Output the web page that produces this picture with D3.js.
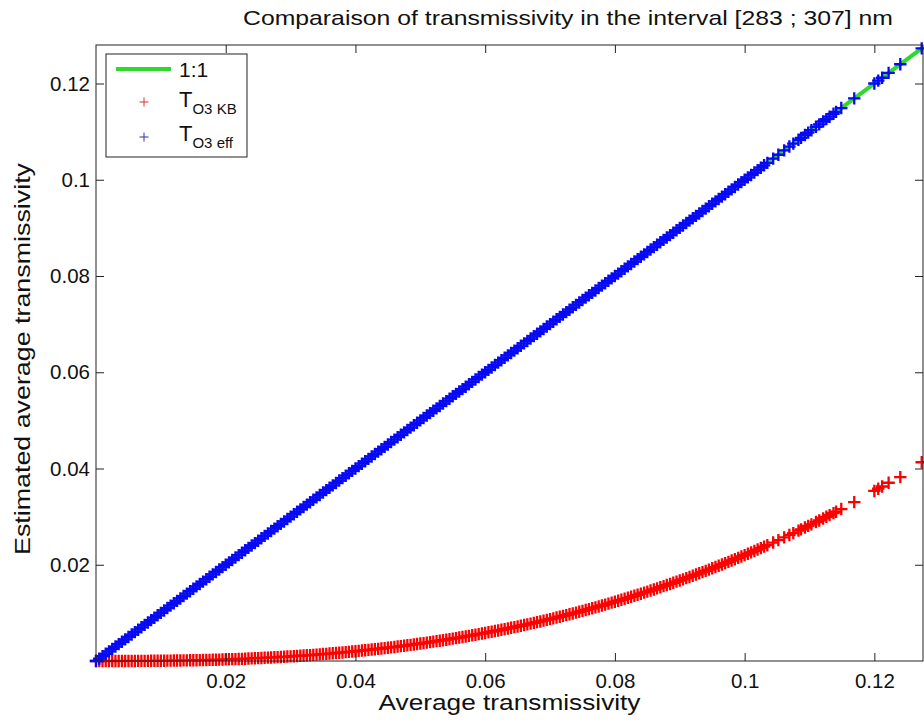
<!DOCTYPE html>
<html>
<head>
<meta charset="utf-8">
<script src="https://cdn.jsdelivr.net/npm/d3@7"></script>
<style>
  html, body { margin: 0; padding: 0; background: #fff; }
  svg { display: block; font-family: "Liberation Sans", Arial, sans-serif; }
</style>
</head>
<body>
<svg id="chart" width="924" height="724"></svg>
<script>
// Observed average transmissivity (x) for each sample
const avgTrans = [
  0, 0.0005, 0.001, 0.0015, 0.002, 0.0025, 0.003, 0.0035, 0.004, 0.0045,
  0.005, 0.0055, 0.006, 0.0065, 0.007, 0.0075, 0.008, 0.0085, 0.009, 0.0095,
  0.01, 0.0105, 0.011, 0.0115, 0.012, 0.0125, 0.013, 0.0135, 0.014, 0.0145,
  0.015, 0.0155, 0.016, 0.0165, 0.017, 0.0175, 0.018, 0.0185, 0.019, 0.0195,
  0.02, 0.0205, 0.021, 0.0215, 0.022, 0.0225, 0.023, 0.0235, 0.024, 0.0245,
  0.025, 0.0255, 0.026, 0.0265, 0.027, 0.0275, 0.028, 0.0285, 0.029, 0.0295,
  0.03, 0.0305, 0.031, 0.0315, 0.032, 0.0325, 0.033, 0.0335, 0.034, 0.0345,
  0.035, 0.0355, 0.036, 0.0365, 0.037, 0.0375, 0.038, 0.0385, 0.039, 0.0395,
  0.04, 0.0405, 0.041, 0.0415, 0.042, 0.0425, 0.043, 0.0435, 0.044, 0.0445,
  0.045, 0.0455, 0.046, 0.0465, 0.047, 0.0475, 0.048, 0.0485, 0.049, 0.0495,
  0.05, 0.0505, 0.051, 0.0515, 0.052, 0.0525, 0.053, 0.0535, 0.054, 0.0545,
  0.055, 0.0555, 0.056, 0.0565, 0.057, 0.0575, 0.058, 0.0585, 0.059, 0.0595,
  0.06, 0.0605, 0.061, 0.0615, 0.062, 0.0625, 0.063, 0.0635, 0.064, 0.0645,
  0.065, 0.0655, 0.066, 0.0665, 0.067, 0.0675, 0.068, 0.0685, 0.069, 0.0695,
  0.07, 0.0705, 0.071, 0.0715, 0.072, 0.0725, 0.073, 0.0735, 0.074, 0.0745,
  0.075, 0.0755, 0.076, 0.0765, 0.077, 0.0775, 0.078, 0.0785, 0.079, 0.0795,
  0.08, 0.0805, 0.081, 0.0815, 0.082, 0.0825, 0.083, 0.0835, 0.084, 0.0845,
  0.085, 0.0855, 0.086, 0.0865, 0.087, 0.0875, 0.088, 0.0885, 0.089, 0.0895,
  0.09, 0.0905, 0.091, 0.0915, 0.092, 0.0925, 0.093, 0.0935, 0.094, 0.0945,
  0.095, 0.0955, 0.096, 0.0965, 0.097, 0.0975, 0.098, 0.0985, 0.099, 0.0995,
  0.1, 0.1005, 0.101, 0.1015, 0.102, 0.1025, 0.103, 0.1035,
  0.1044, 0.1052, 0.1061, 0.1069, 0.1075, 0.1083, 0.1087, 0.1093, 0.1098,
  0.1103, 0.111, 0.1115, 0.1121, 0.1126, 0.1131, 0.1137, 0.1141, 0.1149,
  0.1169, 0.12, 0.1206, 0.1212, 0.1222, 0.124, 0.1273
];

// Estimated transmissivity with the KB ozone model (red)
const estKB = [
  0, 0, 0, 0, 0, 0, 0, 0, 0.00001, 0.00001,
  0.00001, 0.00001, 0.00001, 0.00002, 0.00002, 0.00003, 0.00003, 0.00004, 0.00004, 0.00005,
  0.00006, 0.00006, 0.00007, 0.00008, 0.00009, 0.0001, 0.00011, 0.00012, 0.00013, 0.00015,
  0.00016, 0.00017, 0.00019, 0.0002, 0.00022, 0.00024, 0.00025, 0.00027, 0.00029, 0.00031,
  0.00033, 0.00035, 0.00038, 0.0004, 0.00043, 0.00045, 0.00048, 0.00051, 0.00054, 0.00057,
  0.0006, 0.00063, 0.00066, 0.0007, 0.00073, 0.00077, 0.0008, 0.00084, 0.00088, 0.00092,
  0.00096, 0.001, 0.00105, 0.00109, 0.00114, 0.00118, 0.00123, 0.00128, 0.00133, 0.00138,
  0.00144, 0.00149, 0.00155, 0.0016, 0.00166, 0.00172, 0.00178, 0.00184, 0.0019, 0.00196,
  0.00203, 0.0021, 0.00217, 0.00224, 0.00231, 0.00238, 0.00245, 0.00252, 0.0026, 0.00268,
  0.00276, 0.00284, 0.00292, 0.003, 0.00309, 0.00317, 0.00326, 0.00335, 0.00344, 0.00353,
  0.00363, 0.00372, 0.00382, 0.00392, 0.00402, 0.00412, 0.00422, 0.00432, 0.00443, 0.00454,
  0.00465, 0.00476, 0.00487, 0.00498, 0.0051, 0.00522, 0.00534, 0.00546, 0.00558, 0.0057,
  0.00583, 0.00596, 0.00609, 0.00622, 0.00635, 0.00648, 0.00662, 0.00676, 0.0069, 0.00704,
  0.00718, 0.00732, 0.00747, 0.00762, 0.00777, 0.00792, 0.00807, 0.00822, 0.00838, 0.00854,
  0.0087, 0.00886, 0.00903, 0.0092, 0.00937, 0.00954, 0.00971, 0.00988, 0.01006, 0.01023,
  0.01041, 0.0106, 0.01078, 0.01096, 0.01115, 0.01134, 0.01153, 0.01172, 0.01192, 0.01212,
  0.01232, 0.01252, 0.01272, 0.01292, 0.01313, 0.01334, 0.01355, 0.01376, 0.01398, 0.0142,
  0.01442, 0.01464, 0.01486, 0.01509, 0.01532, 0.01555, 0.01578, 0.01601, 0.01625, 0.01649,
  0.01673, 0.01697, 0.01722, 0.01746, 0.01771, 0.01796, 0.01822, 0.01847, 0.01873, 0.01899,
  0.01926, 0.01952, 0.01978, 0.02005, 0.02033, 0.0206, 0.02088, 0.02115, 0.02143, 0.02172,
  0.02201, 0.0223, 0.02258, 0.02287, 0.02316, 0.02346, 0.02376, 0.02406,
  0.02461, 0.02511, 0.02568, 0.02619, 0.02657, 0.02709, 0.02735, 0.02774, 0.02807,
  0.0284, 0.02887, 0.02921, 0.02962, 0.02996, 0.03031, 0.03073, 0.03101, 0.03157,
  0.03301, 0.03534, 0.0358, 0.03626, 0.03704, 0.0382, 0.0413
];

// Estimated transmissivity with the effective ozone model (blue)
const estEff = [
  0, 0.0005, 0.001, 0.0015, 0.002, 0.0025, 0.003, 0.0035, 0.004, 0.0045,
  0.005, 0.0055, 0.006, 0.0065, 0.007, 0.0075, 0.008, 0.0085, 0.009, 0.0095,
  0.01, 0.0105, 0.011, 0.0115, 0.012, 0.0125, 0.013, 0.0135, 0.014, 0.0145,
  0.015, 0.0155, 0.016, 0.0165, 0.017, 0.0175, 0.018, 0.0185, 0.019, 0.0195,
  0.02, 0.0205, 0.021, 0.0215, 0.022, 0.0225, 0.023, 0.0235, 0.024, 0.0245,
  0.025, 0.0255, 0.026, 0.0265, 0.027, 0.0275, 0.028, 0.0285, 0.029, 0.0295,
  0.03, 0.0305, 0.031, 0.0315, 0.032, 0.0325, 0.033, 0.0335, 0.034, 0.0345,
  0.035, 0.0355, 0.036, 0.0365, 0.037, 0.0375, 0.038, 0.0385, 0.039, 0.0395,
  0.04, 0.0405, 0.041, 0.0415, 0.042, 0.0425, 0.043, 0.0435, 0.044, 0.0445,
  0.045, 0.0455, 0.046, 0.0465, 0.047, 0.0475, 0.048, 0.0485, 0.049, 0.0495,
  0.05, 0.0505, 0.051, 0.0515, 0.052, 0.0525, 0.053, 0.0535, 0.054, 0.0545,
  0.055, 0.0555, 0.056, 0.0565, 0.057, 0.0575, 0.058, 0.0585, 0.059, 0.0595,
  0.06, 0.0605, 0.061, 0.0615, 0.062, 0.0625, 0.063, 0.0635, 0.064, 0.0645,
  0.065, 0.0655, 0.066, 0.0665, 0.067, 0.0675, 0.068, 0.0685, 0.069, 0.0695,
  0.07, 0.0705, 0.071, 0.0715, 0.072, 0.0725, 0.073, 0.0735, 0.074, 0.0745,
  0.075, 0.0755, 0.076, 0.0765, 0.077, 0.0775, 0.078, 0.0785, 0.079, 0.0795,
  0.08, 0.0805, 0.081, 0.0815, 0.082, 0.0825, 0.083, 0.0835, 0.084, 0.0845,
  0.085, 0.0855, 0.086, 0.0865, 0.087, 0.0875, 0.088, 0.0885, 0.089, 0.0895,
  0.09, 0.0905, 0.091, 0.0915, 0.092, 0.0925, 0.093, 0.0935, 0.094, 0.0945,
  0.095, 0.0955, 0.096, 0.0965, 0.097, 0.0975, 0.098, 0.0985, 0.099, 0.0995,
  0.1, 0.1005, 0.101, 0.1015, 0.102, 0.1025, 0.103, 0.1035,
  0.1044, 0.1052, 0.1061, 0.1069, 0.1075, 0.1083, 0.1087, 0.1093, 0.1098,
  0.1103, 0.111, 0.1115, 0.1121, 0.1126, 0.1131, 0.1137, 0.1141, 0.1149,
  0.1169, 0.12, 0.1206, 0.1212, 0.1222, 0.124, 0.1273
];

// Reference 1:1 line end points
const oneToOne = [0, 0.1285];

// Axis limits and tick labels
const xLimits = [0, 0.1275];
const yLimits = [0, 0.128];
const tickValues = [0.02, 0.04, 0.06, 0.08, 0.1, 0.12];
const tickLabels = ["0.02", "0.04", "0.06", "0.08", "0.1", "0.12"];

const titleText = "Comparaison of transmissivity in the interval [283 ; 307] nm";
const xLabelText = "Average transmissivity";
const yLabelText = "Estimated average transmissivity";

const svg = d3.select("#chart");
const plot = { left: 96, right: 923, top: 45, bottom: 661 };

const x = d3.scaleLinear().domain(xLimits).range([plot.left, plot.right]);
const y = d3.scaleLinear().domain(yLimits).range([plot.bottom, plot.top]);

const red = "#ff0000";
const blue = "#0808f8";
const green = "#2fd82f";
const axisColor = "#222";
const font = "'Liberation Sans', Arial, sans-serif";

// Clip for the 1:1 line only (markers are drawn unclipped)
svg.append("defs").append("clipPath").attr("id", "plotClip")
  .append("rect")
  .attr("x", plot.left).attr("y", plot.top)
  .attr("width", plot.right - plot.left).attr("height", plot.bottom - plot.top);

// 1:1 line
svg.append("line")
  .attr("clip-path", "url(#plotClip)")
  .attr("x1", x(oneToOne[0])).attr("y1", y(oneToOne[0]))
  .attr("x2", x(oneToOne[1])).attr("y2", y(oneToOne[1]))
  .attr("stroke", green).attr("stroke-width", 4);

// plus-shaped marker path
const plusPath = (cx, cy, h) =>
  `M${cx - h},${cy}H${cx + h}M${cx},${cy - h}V${cy + h}`;

function drawSeries(ys, color) {
  const d = avgTrans.map((v, i) => plusPath(x(v), y(ys[i]), 6.2)).join("");
  svg.append("path")
    .attr("d", d)
    .attr("fill", "none")
    .attr("stroke", color)
    .attr("stroke-width", 2.3);
}
drawSeries(estKB, red);
drawSeries(estEff, blue);

// Axes: inward ticks on all four sides
const tickLen = 8;
const gx = svg.append("g").attr("transform", `translate(0,${plot.bottom})`)
  .call(d3.axisBottom(x).tickValues(tickValues)
    .tickFormat((d, i) => tickLabels[i]).tickSizeInner(-tickLen).tickSizeOuter(0).tickPadding(12));
const gy = svg.append("g").attr("transform", `translate(${plot.left},0)`)
  .call(d3.axisLeft(y).tickValues(tickValues)
    .tickFormat((d, i) => tickLabels[i]).tickSizeInner(-tickLen).tickSizeOuter(0).tickPadding(6));
const gt = svg.append("g").attr("transform", `translate(0,${plot.top})`)
  .call(d3.axisTop(x).tickValues(tickValues).tickFormat("").tickSizeInner(-tickLen).tickSizeOuter(0));
const gr = svg.append("g").attr("transform", `translate(${plot.right},0)`)
  .call(d3.axisRight(y).tickValues(tickValues).tickFormat("").tickSizeInner(-tickLen).tickSizeOuter(0));

[gx, gy, gt, gr].forEach(g => {
  g.select(".domain").remove();
  g.selectAll(".tick line").attr("stroke", axisColor).attr("stroke-width", 1);
  g.selectAll(".tick text")
    .attr("fill", "#111")
    .attr("font-size", 20.5)
    .attr("font-family", font);
});

// Axes box
svg.append("rect")
  .attr("x", plot.left).attr("y", plot.top)
  .attr("width", plot.right - plot.left).attr("height", plot.bottom - plot.top)
  .attr("fill", "none").attr("stroke", axisColor).attr("stroke-width", 1);

// Title and axis labels (wide MATLAB-style lettering)
svg.append("text")
  .attr("x", 568).attr("y", 25)
  .attr("text-anchor", "middle")
  .attr("font-size", 21).attr("fill", "#111")
  .attr("textLength", 650).attr("lengthAdjust", "spacingAndGlyphs")
  .text(titleText);

svg.append("text")
  .attr("x", (plot.left + plot.right) / 2).attr("y", 710)
  .attr("text-anchor", "middle")
  .attr("font-size", 22).attr("fill", "#111")
  .attr("textLength", 262).attr("lengthAdjust", "spacingAndGlyphs")
  .text(xLabelText);

svg.append("text")
  .attr("transform", "translate(30,359) rotate(-90)")
  .attr("text-anchor", "middle")
  .attr("font-size", 22).attr("fill", "#111")
  .attr("textLength", 392).attr("lengthAdjust", "spacingAndGlyphs")
  .text(yLabelText);

// Legend
const legend = svg.append("g");
legend.append("rect")
  .attr("x", 106).attr("y", 54).attr("width", 141).attr("height", 103)
  .attr("fill", "#fff").attr("stroke", axisColor).attr("stroke-width", 1);

legend.append("line")
  .attr("x1", 116).attr("x2", 171).attr("y1", 69).attr("y2", 69)
  .attr("stroke", green).attr("stroke-width", 4);
legend.append("text")
  .attr("x", 179).attr("y", 77)
  .attr("font-size", 21).attr("fill", "#111")
  .text("1:1");

const legendEntries = [
  { color: "#e03030", cy: 102, base: 107, sub: "O3 KB" },
  { color: "#3030c0", cy: 137, base: 141, sub: "O3 eff" }
];
legendEntries.forEach(e => {
  legend.append("path")
    .attr("d", plusPath(144, e.cy, 4.5))
    .attr("stroke", e.color).attr("stroke-width", 1).attr("fill", "none");
  const t = legend.append("text")
    .attr("x", 179).attr("y", e.base)
    .attr("font-size", 22).attr("fill", "#111");
  t.append("tspan").text("T");
  t.append("tspan").attr("dy", 7).attr("font-size", 15).text(e.sub);
});
</script>
</body>
</html>
